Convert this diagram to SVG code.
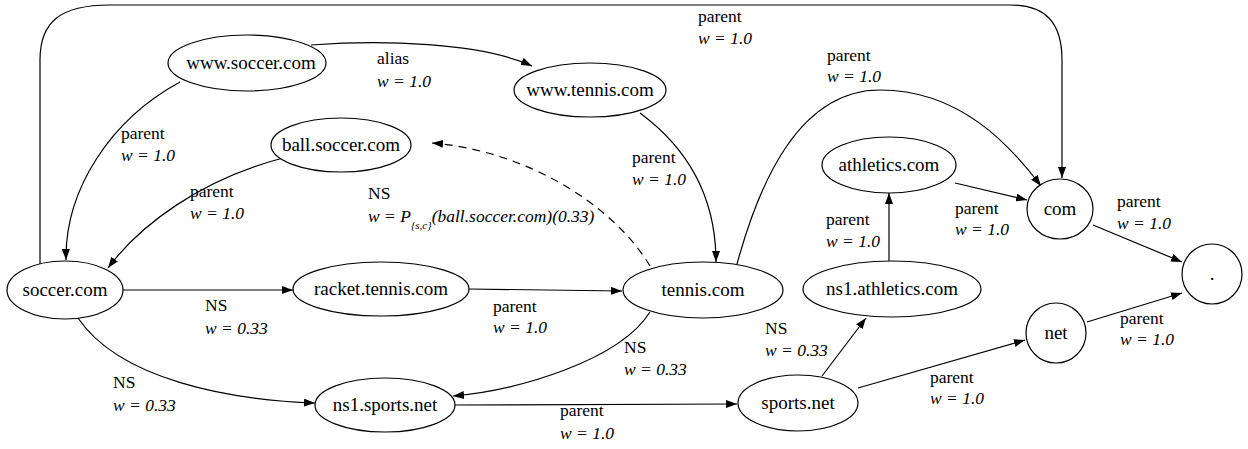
<svg xmlns="http://www.w3.org/2000/svg" width="1248" height="449" viewBox="0 0 1248 449">
<defs>
<marker id="ah" markerWidth="11" markerHeight="8" refX="11" refY="4" orient="auto" markerUnits="userSpaceOnUse">
<path d="M0,0 L11,4 L0,8 Z" fill="#000"/>
</marker>
<style>
.n ellipse{fill:#fff;stroke:#000;stroke-width:1.2}
.n text{font-family:'Liberation Serif','Times New Roman',serif;font-size:19px;text-anchor:middle;fill:#000}
.e path{fill:none;stroke:#000;stroke-width:1.2;marker-end:url(#ah)}
.e .d{stroke-dasharray:8,6}
.l text{font-family:'Liberation Serif','Times New Roman',serif;font-size:17.5px;fill:#000}
.l .i{font-style:italic}
</style>
</defs>
<rect width="1248" height="449" fill="#fff"/>
<g id="connectors" class="e">
<path d="M40,266 L40,60 C40,22 60,5 110,5 L1010,5 C1045,5 1062,22 1062,60 L1062,178"/>
<path d="M311,45 C380,40 480,42 532,66"/>
<path d="M180,82 C110,120 65,190 66,260"/>
<path d="M283,158 C200,180 140,225 108,268"/>
<path class="d" d="M650,266 C610,200 520,150 432,143"/>
<path d="M640,113 C690,150 716,200 716,262"/>
<path d="M737,264 C760,180 800,90 880,90 C960,90 1010,145 1041,186"/>
<path d="M122,290 L293,290"/>
<path d="M469,289 L622,291"/>
<path d="M650,312 C620,360 520,390 453,396"/>
<path d="M78,318 C120,380 230,400 315,403"/>
<path d="M455,405 L737,404"/>
<path d="M822,376 L866,318"/>
<path d="M889,261 L889,193"/>
<path d="M955,183 L1027,200"/>
<path d="M858,388 L1025,340"/>
<path d="M1093,225 L1182,262"/>
<path d="M1087,322 L1182,293"/>
</g>
<g id="labels" class="l">
<text x="698" y="22">parent</text><text class="i" x="698" y="44">w = 1.0</text>
<text x="377" y="64">alias</text><text class="i" x="377" y="87">w = 1.0</text>
<text x="121" y="139">parent</text><text class="i" x="121" y="161">w = 1.0</text>
<text x="190" y="197">parent</text><text class="i" x="190" y="219">w = 1.0</text>
<text x="368" y="199">NS</text>
<text class="i" x="368" y="222">w = P<tspan font-size="11" dy="7">{s,c}</tspan><tspan dy="-7">(ball.soccer.com)(0.33)</tspan></text>
<text x="632" y="163">parent</text><text class="i" x="632" y="185">w = 1.0</text>
<text x="827" y="61">parent</text><text class="i" x="827" y="82">w = 1.0</text>
<text x="205" y="311">NS</text><text class="i" x="205" y="334">w = 0.33</text>
<text x="493" y="312">parent</text><text class="i" x="493" y="333">w = 1.0</text>
<text x="624" y="353">NS</text><text class="i" x="624" y="375">w = 0.33</text>
<text x="113" y="388">NS</text><text class="i" x="113" y="411">w = 0.33</text>
<text x="560" y="416">parent</text><text class="i" x="560" y="439">w = 1.0</text>
<text x="765" y="334">NS</text><text class="i" x="765" y="356">w = 0.33</text>
<text x="826" y="225">parent</text><text class="i" x="826" y="247">w = 1.0</text>
<text x="955" y="214">parent</text><text class="i" x="955" y="235">w = 1.0</text>
<text x="930" y="383">parent</text><text class="i" x="930" y="404">w = 1.0</text>
<text x="1117" y="207">parent</text><text class="i" x="1117" y="229">w = 1.0</text>
<text x="1120" y="324">parent</text><text class="i" x="1120" y="345">w = 1.0</text>
</g>
<g id="www_soccer" class="n"><ellipse cx="247" cy="63" rx="79" ry="28"/><text x="251" y="69">www.soccer.com</text></g>
<g id="www_tennis" class="n"><ellipse cx="590" cy="90" rx="76" ry="27"/><text x="590" y="96">www.tennis.com</text></g>
<g id="ball_soccer" class="n"><ellipse cx="341" cy="145" rx="70" ry="27"/><text x="341" y="151">ball.soccer.com</text></g>
<g id="soccer" class="n"><ellipse cx="65" cy="290" rx="58" ry="29"/><text x="65" y="296">soccer.com</text></g>
<g id="racket_tennis" class="n"><ellipse cx="381" cy="289" rx="88" ry="27"/><text x="381" y="295">racket.tennis.com</text></g>
<g id="tennis" class="n"><ellipse cx="703" cy="290" rx="80" ry="28"/><text x="703" y="296">tennis.com</text></g>
<g id="ns1_sports" class="n"><ellipse cx="385" cy="405" rx="70" ry="27"/><text x="385" y="411">ns1.sports.net</text></g>
<g id="sports" class="n"><ellipse cx="798" cy="403" rx="60" ry="28"/><text x="798" y="409">sports.net</text></g>
<g id="athletics" class="n"><ellipse cx="889" cy="165" rx="67" ry="28"/><text x="889" y="171">athletics.com</text></g>
<g id="ns1_athletics" class="n"><ellipse cx="892" cy="289" rx="89" ry="28"/><text x="892" y="295">ns1.athletics.com</text></g>
<g id="com" class="n"><ellipse cx="1060" cy="209" rx="33" ry="30"/><text x="1060" y="215">com</text></g>
<g id="net" class="n"><ellipse cx="1056" cy="333" rx="30" ry="30"/><text x="1056" y="339">net</text></g>
<g id="root" class="n"><ellipse cx="1212" cy="274" rx="30" ry="30"/><text x="1212" y="280">.</text></g>
</svg>
